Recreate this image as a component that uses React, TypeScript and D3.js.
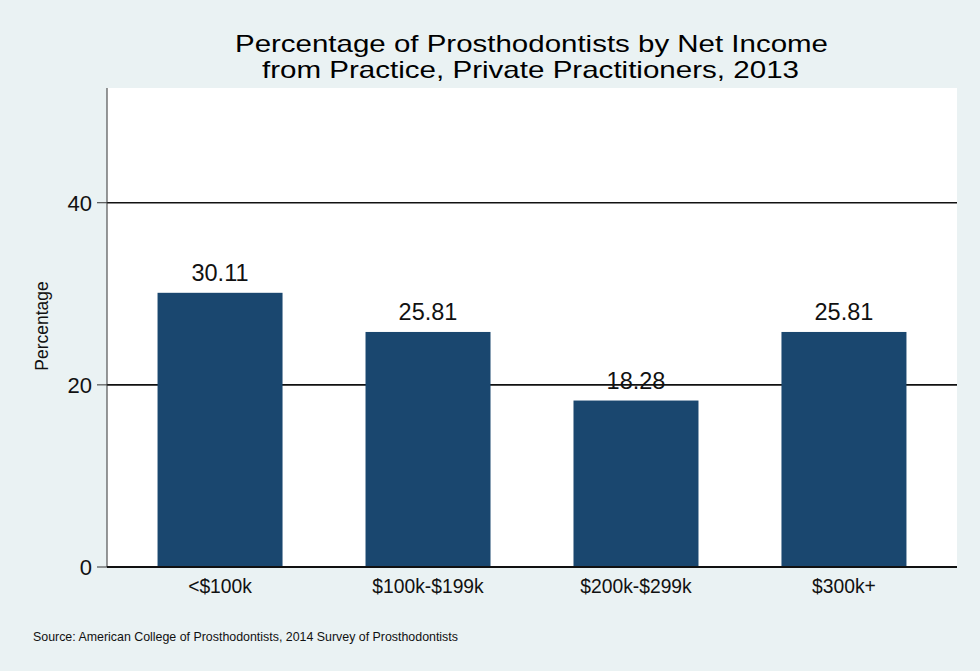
import React from "react";
import * as d3 from "d3";

const categories: string[] = ["<$100k", "$100k-$199k", "$200k-$299k", "$300k+"];
const values: number[] = [30.11, 25.81, 18.28, 25.81];
const yTicks: number[] = [0, 20, 40];
const titleLines: string[] = [
  "Percentage of Prosthodontists by Net Income",
  "from Practice, Private Practitioners, 2013",
];
const yAxisTitle = "Percentage";
const sourceNote = "Source: American College of Prosthodontists, 2014 Survey of Prosthodontists";

const W = 980;
const H = 671;
const plot = { left: 107, right: 957, top: 88, bottom: 567 };
const FONT = "'Liberation Sans', Arial, Helvetica, sans-serif";

export default function App() {
  const x = d3
    .scaleBand<string>()
    .domain(categories)
    .range([plot.left, plot.right])
    .paddingInner(0.399)
    .paddingOuter(0.243);
  const y = d3.scaleLinear().domain([0, 52.6]).range([plot.bottom, plot.top]);

  return (
    <svg
      width={W}
      height={H}
      viewBox={`0 0 ${W} ${H}`}
      style={{ position: "absolute", left: 0, top: 0, display: "block" }}
      fontFamily={FONT}
    >
      <rect x={0} y={0} width={W} height={H} fill="#eaf2f3" />
      <rect
        x={plot.left}
        y={plot.top}
        width={plot.right - plot.left}
        height={plot.bottom - plot.top}
        fill="#ffffff"
      />
      {/* title */}
      <text x={531.5} y={52} textAnchor="middle" fontSize={24} fill="#000" textLength={593} lengthAdjust="spacingAndGlyphs">
        {titleLines[0]}
      </text>
      <text x={530.5} y={78} textAnchor="middle" fontSize={24} fill="#000" textLength={537} lengthAdjust="spacingAndGlyphs">
        {titleLines[1]}
      </text>
      {/* gridlines */}
      {yTicks.map((t) => (
        <line
          key={`g${t}`}
          x1={plot.left}
          x2={plot.right}
          y1={y(t)}
          y2={y(t)}
          stroke="#111"
          strokeWidth={1.6}
        />
      ))}
      {/* bars */}
      {categories.map((c, i) => (
        <rect
          key={c}
          x={x(c)}
          y={y(values[i])}
          width={x.bandwidth()}
          height={y(0) - y(values[i])}
          fill="#1a476f"
        />
      ))}
      {/* bar labels */}
      {categories.map((c, i) => (
        <text
          key={`l${c}`}
          x={(x(c) as number) + x.bandwidth() / 2}
          y={y(values[i]) - 12}
          textAnchor="middle"
          fontSize={23.5}
          fill="#111"
        >
          {values[i].toFixed(2)}
        </text>
      ))}
      {/* y axis */}
      <line x1={plot.left} x2={plot.left} y1={plot.top} y2={plot.bottom} stroke="#333" strokeWidth={1} />
      {yTicks.map((t) => (
        <g key={`t${t}`}>
          <line x1={plot.left - 10} x2={plot.left} y1={y(t)} y2={y(t)} stroke="#333" strokeWidth={1} />
          <text x={92} y={y(t) + 8} textAnchor="end" fontSize={22} fill="#111">
            {t}
          </text>
        </g>
      ))}
      <line x1={plot.left} x2={plot.right} y1={y(0)} y2={y(0)} stroke="#111" strokeWidth={1.8} />
      <text
        transform={`translate(47.5, 326) rotate(-90)`}
        textAnchor="middle"
        fontSize={17.5}
        fill="#111"
      >
        {yAxisTitle}
      </text>
      {/* x labels */}
      {categories.map((c) => (
        <text
          key={`x${c}`}
          x={(x(c) as number) + x.bandwidth() / 2}
          y={593}
          textAnchor="middle"
          fontSize={19.3}
          fill="#111"
        >
          {c}
        </text>
      ))}
      <text x={33} y={641} fontSize={12.4} fill="#111">
        {sourceNote}
      </text>
    </svg>
  );
}
